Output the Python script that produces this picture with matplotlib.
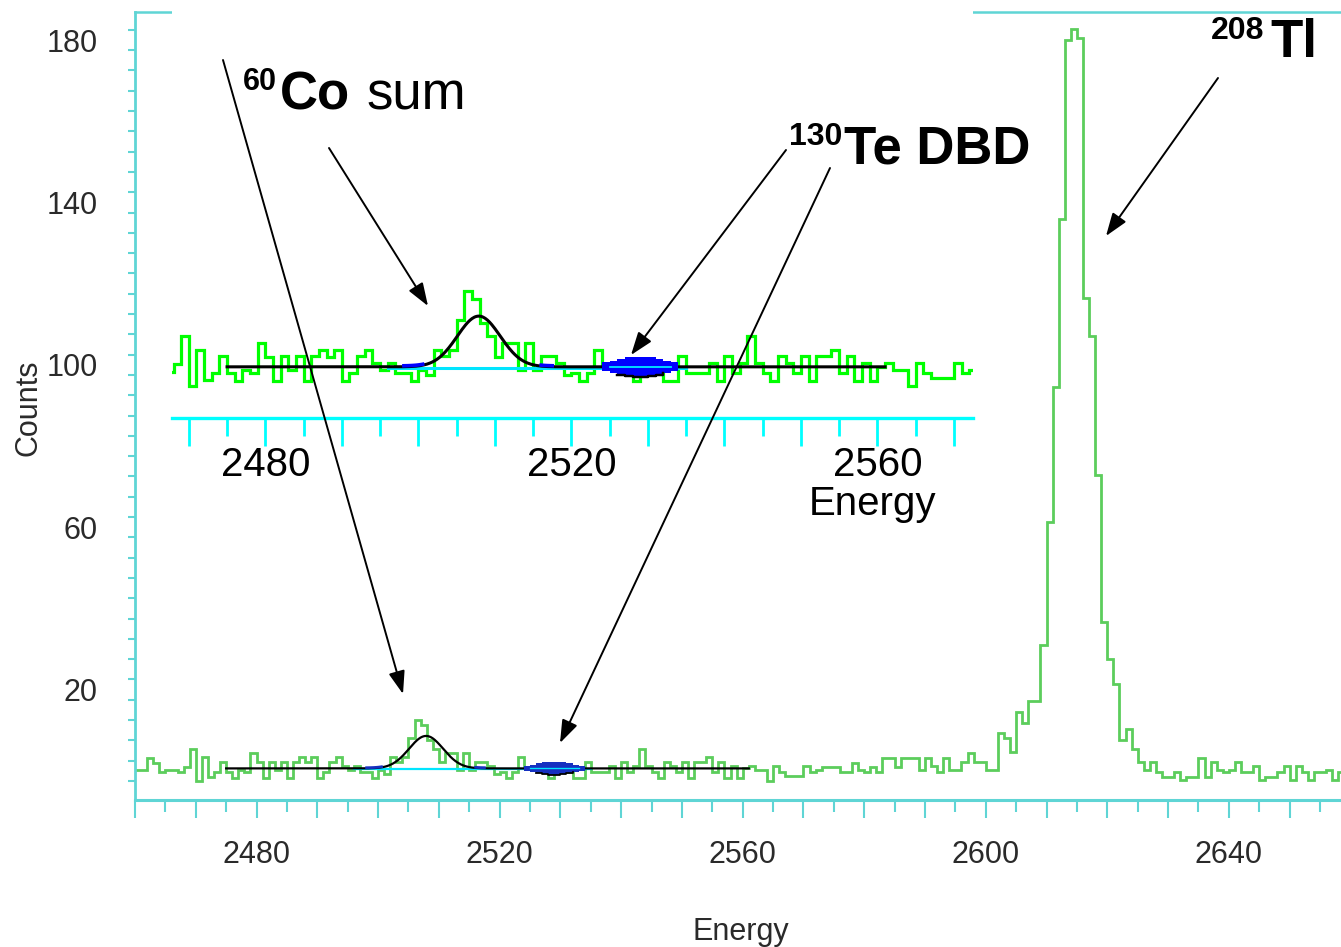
import numpy as np
import matplotlib.pyplot as plt
from matplotlib.patches import FancyArrowPatch
from matplotlib.transforms import ScaledTranslation

# ---- data ----
# 1 keV bins, lower edges 2460 ... 2658
energy = np.arange(2460, 2659)
counts = [
    2.7, 2.7, 5.6, 4.5, 2.3, 2.7, 2.7, 2.3, 3.5, 8.0,      # 2460
    0.0, 5.8, 1.0, 2.2, 4.8, 2.2, 0.8, 2.6, 2.2, 6.9,      # 2470
    4.6, 0.8, 4.8, 2.6, 4.8, 0.8, 4.8, 5.8, 4.6, 5.8,      # 2480
    0.8, 2.2, 4.8, 5.8, 3.7, 2.6, 3.7, 2.2, 2.2, 0.8,      # 2490
    2.6, 1.8, 5.8, 4.8, 5.8, 10.5, 15.0, 13.8, 10.0, 8.0,  # 2500
    4.6, 6.9, 6.9, 2.6, 6.9, 2.6, 4.8, 4.8, 3.7, 1.8,      # 2510
    2.2, 0.8, 2.2, 5.8, 3.1, 3.1, 2.6, 2.2, 0.8, 2.6,      # 2520
    2.6, 2.2, 0.8, 0.8, 4.8, 2.2, 2.2, 2.2, 3.7, 0.8,      # 2530
    4.8, 2.2, 3.7, 8.0, 3.7, 2.2, 0.8, 4.8, 3.7, 2.2,      # 2540
    4.8, 0.8, 4.8, 4.8, 5.8, 2.2, 4.8, 0.8, 3.7, 0.8,      # 2550
    3.1, 3.7, 2.6, 2.6, 0.0, 3.7, 2.2, 1.3, 1.3, 1.3,      # 2560
    3.7, 2.2, 2.6, 3.4, 3.4, 3.4, 2.3, 2.3, 4.5, 2.7,      # 2570
    2.3, 3.4, 2.3, 5.6, 5.6, 3.5, 5.6, 5.6, 5.6, 2.7,      # 2580
    5.6, 3.7, 2.3, 5.6, 2.7, 2.7, 4.8, 6.8, 4.8, 4.8,      # 2590
    2.7, 2.7, 11.7, 10.5, 7.2, 17.1, 14.2, 19.8, 19.8, 33.5,  # 2600
    63.7, 97.0, 138.4, 182.4, 185.1, 183.0, 118.9, 109.6, 75.4, 39.2,  # 2610
    30.0, 23.9, 10.1, 12.7, 7.8, 4.8, 2.7, 4.8, 2.3, 1.1,  # 2620
    1.1, 2.3, 0.2, 1.0, 1.0, 5.7, 1.0, 4.8, 2.7, 2.3,      # 2630
    2.7, 4.8, 2.3, 2.3, 3.6, 0.2, 1.0, 1.0, 2.3, 3.6,      # 2640
    0.2, 3.6, 2.3, 0.2, 2.3, 2.3, 2.7, 0.2, 2.3,           # 2650
]
edges = np.append(energy, energy[-1] + 1)

# gaussian fit of the 60Co sum line and of the 130Te DBD line
fit_lo, fit_hi = 2475, 2561
fit_base = 3.1
co_center, co_amp = 2507.9, 8.0
sigma = 2.8
dbd_center, dbd_amp = 2529.0, 1.3
dbd_bins = np.arange(2524, 2534)
bkg_lo, bkg_hi = 2496, 2535
blue_spans = [(2498.0, 2500.6), (2516.0, 2517.6)]

main_xlabels = [2480, 2520, 2560, 2600, 2640]
main_ylabels = [20, 60, 100, 140, 180]
inset_xlabels = [2480, 2520, 2560]

W, H = 1341, 947
SANS = ['Liberation Sans', 'DejaVu Sans']

MAIN_CYAN = '#5fd5d5'
MAIN_GREEN = '#5ccd5c'


def gauss(e, c, a):
    return a * np.exp(-0.5 * ((e - c) / sigma) ** 2)


def draw_fits(ax, blue, lw):
    e = np.linspace(fit_lo, fit_hi, 600)
    fit = fit_base + gauss(e, co_center, co_amp)
    eb = np.linspace(bkg_lo, bkg_hi, 50)
    ax.plot(eb, np.full_like(eb, fit_base) - 0.25, color='#00e5ff', lw=lw, zorder=2)
    ax.plot(e, fit, color='black', lw=lw, zorder=3)
    for lo, hi in blue_spans:
        m = (e >= lo) & (e <= hi)
        ax.plot(e[m], fit[m] + 0.15, color=blue, lw=lw + 0.4, zorder=4)
    # DBD fit drawn per bin, +/- amplitude around the background
    ed = np.append(dbd_bins, dbd_bins[-1] + 1).astype(float)
    g = gauss(dbd_bins + 0.5, dbd_center, dbd_amp)
    g = np.append(g, g[-1])
    ax.fill_between(ed, fit_base - g - 0.35, fit_base + g + 0.35, step='post',
                    color=blue, lw=0, zorder=4)
    ax.plot([ed[0] + 1, ed[-1] - 1], [fit_base, fit_base], color='#00e5ff',
            lw=lw * 0.6, zorder=5)
    ax.step(ed[2:-2], fit_base - g[2:-2] - 0.35, where='post', color='black',
            lw=lw * 0.8, zorder=5)


fig = plt.figure(figsize=(W / 100, H / 100), dpi=100)

# ---- main spectrum ----
ax = fig.add_axes([135 / W, 1 - 800 / H, (W - 135) / W, (800 - 12) / H])
ax.stairs(counts, edges, baseline=None, color=MAIN_GREEN, lw=2.0, zorder=1)
draw_fits(ax, '#1630c0', 1.6)
ax.set_xlim(2460.1, 2658.45)
ax.set_ylim(-4.68, 189.4)

for side in ['left', 'bottom', 'top']:
    ax.spines[side].set_color(MAIN_CYAN)
ax.spines['left'].set_linewidth(2.0)
ax.spines['bottom'].set_linewidth(2.2)
ax.spines['top'].set_linewidth(1.8)
ax.spines['right'].set_visible(False)

xt_main = np.arange(2460, 2660, 10)
ax.set_xticks(xt_main)
ax.set_xticklabels([str(v) if v in main_xlabels else '' for v in xt_main])
ax.set_xticks(np.arange(2465, 2660, 10), minor=True)
ax.tick_params(axis='x', which='major', length=13, width=1.5, color=MAIN_CYAN, pad=16,
               labelsize=22, labelcolor='#2a2a2a')
ax.tick_params(axis='x', which='minor', length=8.5, width=1.5, color=MAIN_CYAN)

yt = np.arange(0, 190, 5)
ax.set_yticks(yt)
ax.set_yticklabels([str(v) if v in main_ylabels else '' for v in yt])
ax.tick_params(axis='y', which='major', length=5, width=1.5, color=MAIN_CYAN, pad=22,
               labelsize=22, labelcolor='#2a2a2a')
for lab in ax.get_xticklabels() + ax.get_yticklabels():
    lab.set_family(SANS)
shift = ScaledTranslation(0, 0.10, fig.dpi_scale_trans)
for lab in ax.get_yticklabels():
    lab.set_transform(lab.get_transform() + shift)

ax.set_xlabel('Energy', fontsize=22, family=SANS, color='#2a2a2a')
ax.xaxis.set_label_coords((741 - 135) / (W - 135), -(932 - 800) / 788)
ax.xaxis.label.set_va('center')
ax.set_ylabel('Counts', fontsize=22, family=SANS, color='#2a2a2a')
ax.yaxis.set_label_coords((28 - 135) / (W - 135), (800 - 408) / 788)
ax.yaxis.label.set_va('center')

# ---- zoomed inset of the DBD region ----
axi = fig.add_axes([172 / W, 1 - 418 / H, (973 - 172) / W, 418 / H])
axi.set_facecolor('white')
axi.stairs(counts, edges, baseline=None, color='#00ff00', lw=2.3, zorder=1)
draw_fits(axi, '#0000ff', 2.2)
axi.set_xlim(2467.8, 2572.5)
axi.set_ylim(-4.97, 60.96)
for side in ['left', 'right', 'top']:
    axi.spines[side].set_visible(False)
axi.spines['bottom'].set_color('#00ffff')
axi.spines['bottom'].set_linewidth(2.4)
axi.set_yticks([])
xt = np.arange(2470, 2571, 10)
axi.set_xticks(xt)
axi.set_xticklabels([str(v) if v in inset_xlabels else '' for v in xt])
axi.set_xticks(np.arange(2475, 2575, 10), minor=True)
axi.tick_params(axis='x', which='major', length=20, width=2, color='#00ffff', pad=0,
                labelsize=29, labelcolor='black')
axi.tick_params(axis='x', which='minor', length=13, width=2, color='#00ffff')
for lab in axi.get_xticklabels():
    lab.set_family(SANS)
axi.text((873 - 172) / (973 - 172), -(515 - 418) / 418, 'Energy', transform=axi.transAxes,
         ha='center', va='baseline', fontsize=29, family=SANS, color='black')


# ---- labels and arrows ----
def put(px, py, s, size, weight='bold'):
    fig.text(px / W, 1 - py / H, s, fontsize=size, fontweight=weight, family=SANS,
             ha='left', va='baseline', color='black')


put(243, 90, '60', 22)
put(280, 110, 'Co', 38)
put(366, 110, 'sum', 38, 'normal')
put(789, 145, '130', 23)
put(844, 163, 'Te DBD', 38)
put(1211, 39, '208', 23)
put(1270, 57, 'Tl', 38)

arrows = [
    ((223, 60), (403, 694)),
    ((329, 148), (428, 306)),
    ((786, 150), (631, 355)),
    ((830, 168), (560, 743)),
    ((1218, 78), (1106, 236)),
]
for (x0, y0), (x1, y1) in arrows:
    fig.add_artist(FancyArrowPatch((x0 / W, 1 - y0 / H), (x1 / W, 1 - y1 / H),
                                   transform=fig.transFigure,
                                   arrowstyle='-|>,head_length=14,head_width=5',
                                   mutation_scale=1, lw=1.4, color='black',
                                   shrinkA=0, shrinkB=0))

fig.savefig('out.png', dpi=100)
